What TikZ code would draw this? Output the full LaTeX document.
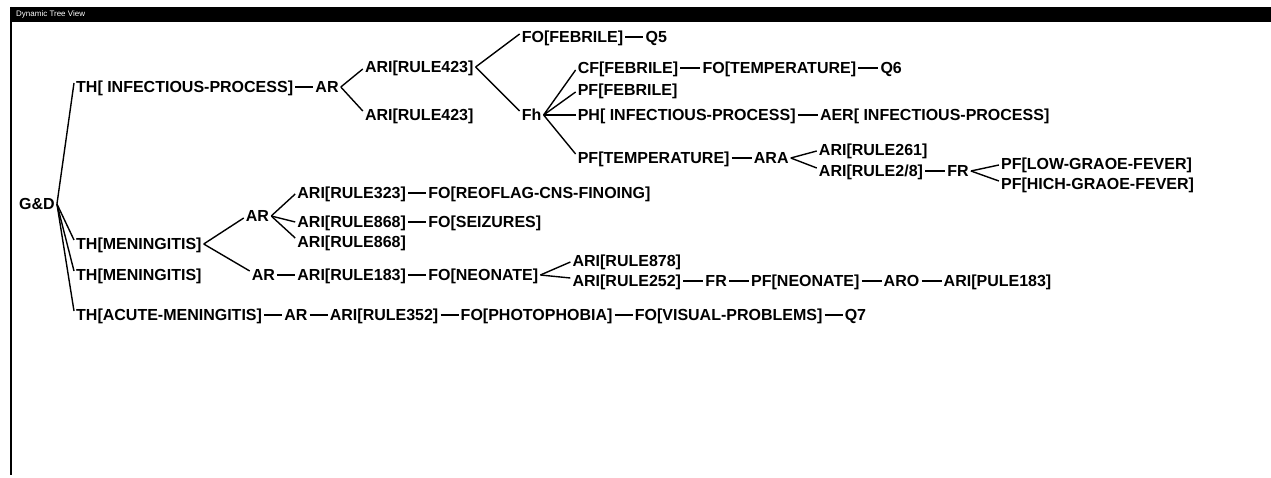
\documentclass[tikz,border=0pt]{standalone}
\usepackage{fontspec}
\setmainfont{Liberation Sans}
\usetikzlibrary{calc}
\begin{document}
\begin{tikzpicture}[x=1pt,y=-1pt,
  lbl/.style={anchor=west, inner xsep=2pt, inner ysep=1pt,
    font=\fontsize{16}{18}\selectfont\bfseries, text height=11.5pt, text depth=0pt},
  link/.style={line width=1.4pt},
  frame/.style={line width=1.6pt}]
\useasboundingbox (0,0) rectangle (1271,478);
\fill[white] (0,0) rectangle (1271,478);
% window frame
\fill[black] (10,7) rectangle (1271,22);
\node[anchor=west, text=white, inner sep=0pt, font=\fontsize{8}{9}\selectfont] (title) at (16,14.5) {Dynamic Tree View};
\draw[frame] (11,7) -- (11,475);

% ---------- nodes ----------
\node[lbl] (gd) at (17,204) {G\&D};
% upper branch
\node[lbl] (th1) at (74,87) {TH[ INFECTIOUS-PROCESS]};
\node[lbl] (ar1) at ([xshift=18pt]th1.east) {AR};
\node[lbl, xshift=22pt] (ari1) at (ar1.east |- 0,67) {ARI[RULE423]};
\node[lbl, xshift=22pt] (ari2) at (ar1.east |- 0,115) {ARI[RULE423]};
\node[lbl, xshift=44pt] (fo1) at (ari1.east |- 0,37) {FO[FEBRILE]};
\node[lbl] (q5) at ([xshift=18pt]fo1.east) {Q5};
\node[lbl, xshift=44pt] (fh) at (ari1.east |- 0,115) {Fh};
\node[lbl, xshift=32pt] (cf) at (fh.east |- 0,68) {CF[FEBRILE]};
\node[lbl] (fo2) at ([xshift=20pt]cf.east) {FO[TEMPERATURE]};
\node[lbl] (q6) at ([xshift=20pt]fo2.east) {Q6};
\node[lbl] (pf1) at (cf.west |- 0,90) {PF[FEBRILE]};
\node[lbl] (ph) at (cf.west |- 0,115) {PH[ INFECTIOUS-PROCESS]};
\node[lbl] (aer) at ([xshift=20pt]ph.east) {AER[ INFECTIOUS-PROCESS]};
\node[lbl] (pft) at (cf.west |- 0,158) {PF[TEMPERATURE]};
\node[lbl] (ara) at ([xshift=20pt]pft.east) {ARA};
\node[lbl, xshift=26pt] (ari3) at (ara.east |- 0,150) {ARI[RULE261]};
\node[lbl] (ari4) at (ari3.west |- 0,171) {ARI[RULE2/8]};
\node[lbl] (fr1) at ([xshift=20pt]ari4.east) {FR};
\node[lbl, xshift=28pt] (pfl) at (fr1.east |- 0,164) {PF[LOW-GRAOE-FEVER]};
\node[lbl] (pfh) at (pfl.west |- 0,184) {PF[HICH-GRAOE-FEVER]};
% meningitis branches
\node[lbl] (thm1) at (74,244) {TH[MENINGITIS]};
\node[lbl] (thm2) at (74,275) {TH[MENINGITIS]};
\node[lbl, xshift=40pt] (ar2) at (thm1.east |- 0,216) {AR};
\node[lbl, xshift=24pt] (ari5) at (ar2.east |- 0,193) {ARI[RULE323]};
\node[lbl] (fo3) at ([xshift=18pt]ari5.east) {FO[REOFLAG-CNS-FINOING]};
\node[lbl] (ari6) at (ari5.west |- 0,222) {ARI[RULE868]};
\node[lbl] (fo4) at ([xshift=18pt]ari6.east) {FO[SEIZURES]};
\node[lbl] (ari7) at (ari5.west |- 0,242) {ARI[RULE868]};
\node[lbl] (ari8) at (ari5.west |- 0,275) {ARI[RULE183]};
\node[lbl, anchor=east] (ar3) at ([xshift=-18pt]ari8.west) {AR};
\node[lbl] (fo5) at ([xshift=18pt]ari8.east) {FO[NEONATE]};
\node[lbl, xshift=30pt] (ari9) at (fo5.east |- 0,261) {ARI[RULE878]};
\node[lbl] (ari10) at (ari9.west |- 0,281) {ARI[RULE252]};
\node[lbl] (fr2) at ([xshift=20pt]ari10.east) {FR};
\node[lbl] (pfn) at ([xshift=20pt]fr2.east) {PF[NEONATE]};
\node[lbl] (aro) at ([xshift=20pt]pfn.east) {ARO};
\node[lbl] (ari11) at ([xshift=20pt]aro.east) {ARI[PULE183]};
% acute meningitis
\node[lbl] (tha) at (74,315) {TH[ACUTE-MENINGITIS]};
\node[lbl] (ar4) at ([xshift=18pt]tha.east) {AR};
\node[lbl] (ari12) at ([xshift=18pt]ar4.east) {ARI[RULE352]};
\node[lbl] (fo6) at ([xshift=18pt]ari12.east) {FO[PHOTOPHOBIA]};
\node[lbl] (fo7) at ([xshift=18pt]fo6.east) {FO[VISUAL-PROBLEMS]};
\node[lbl] (q7) at ([xshift=18pt]fo7.east) {Q7};

% ---------- connectors ----------
\begin{scope}[link]
% root forks
\draw (gd.east) -- ([yshift=4pt]th1.west);
\draw (gd.east) -- ([yshift=4pt]thm1.west);
\draw (gd.east) -- ([yshift=4pt]thm2.west);
\draw (gd.east) -- ([yshift=4pt]tha.west);
% upper branch
\draw (th1) -- (ar1);
\draw (ar1.east) -- ([yshift=-2pt]ari1.west);
\draw (ar1.east) -- ([yshift=4pt]ari2.west);
\draw (ari1.east) -- ([yshift=3pt]fo1.west);
\draw (ari1.east) -- ([yshift=4pt]fh.west);
\draw (fo1) -- (q5);
\draw (fh.east) -- ([yshift=-2pt]cf.west);
\draw (fh.east) -- ([yshift=-2pt]pf1.west);
\draw (fh.east) -- (ph.west);
\draw (fh.east) -- ([yshift=4pt]pft.west);
\draw (cf) -- (fo2);
\draw (fo2) -- (q6);
\draw (ph) -- (aer);
\draw (pft) -- (ara);
\draw (ara.east) -- ([yshift=-1pt]ari3.west);
\draw (ara.east) -- ([yshift=3pt]ari4.west);
\draw (ari4) -- (fr1);
\draw (fr1.east) -- ([yshift=-1pt]pfl.west);
\draw (fr1.east) -- ([yshift=3pt]pfh.west);
% meningitis
\draw (thm1.east) -- ([yshift=-2pt]ar2.west);
\draw (thm1.east) -- ([yshift=4pt]ar3.west);
\draw (ar2.east) -- ([yshift=-1pt]ari5.west);
\draw (ar2.east) -- (ari6.west);
\draw (ar2.east) -- ([yshift=4pt]ari7.west);
\draw (ari5) -- (fo3);
\draw (ari6) -- (fo4);
\draw (ar3) -- (ari8);
\draw (ari8) -- (fo5);
\draw (fo5.east) -- ([yshift=-1pt]ari9.west);
\draw (fo5.east) -- ([yshift=3pt]ari10.west);
\draw (ari10) -- (fr2);
\draw (fr2) -- (pfn);
\draw (pfn) -- (aro);
\draw (aro) -- (ari11);
% acute
\draw (tha) -- (ar4);
\draw (ar4) -- (ari12);
\draw (ari12) -- (fo6);
\draw (fo6) -- (fo7);
\draw (fo7) -- (q7);
\end{scope}
\end{tikzpicture}
\end{document}
